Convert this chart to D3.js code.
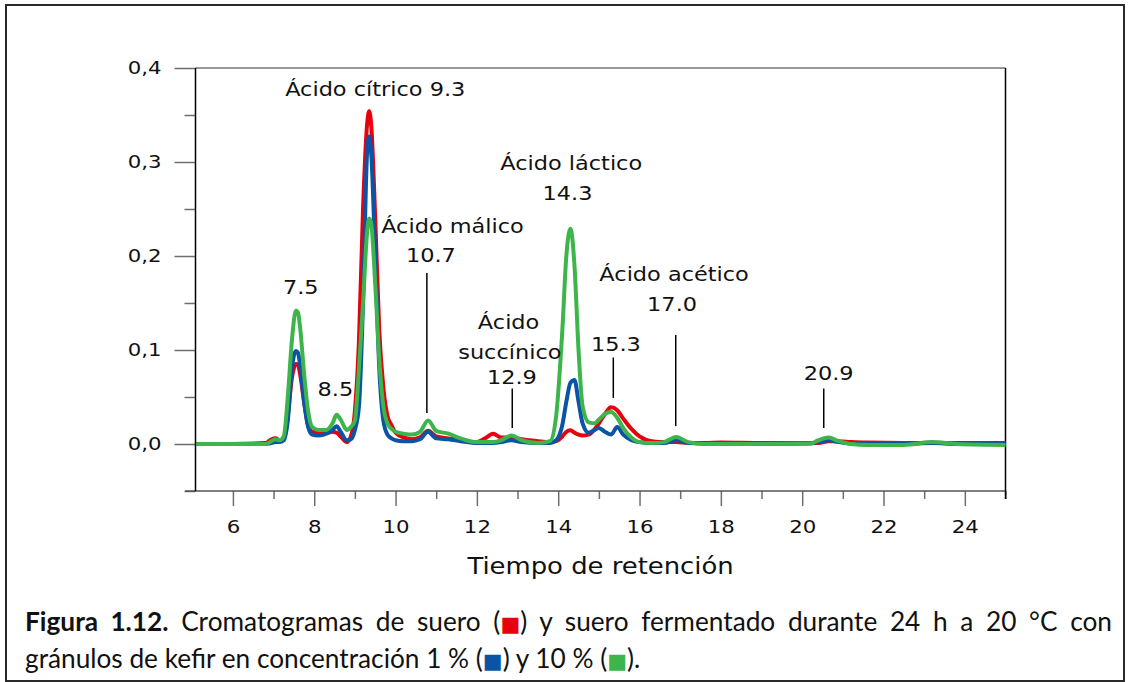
<!DOCTYPE html>
<html lang="es">
<head>
<meta charset="UTF-8">
<title>Cromatogramas de suero</title>
<script src="https://d3js.org/d3.v7.min.js"></script>
<style>
  body { margin: 0; background: #fff; }
  text.sx { transform-box: fill-box; transform-origin: 50% 50%; transform: scaleX(1.15); }
  text.sxr { transform-box: fill-box; transform-origin: 100% 50%; transform: scaleX(1.15); }
</style>
</head>
<body>
<div id="chart"></div>
<script>
// tiempo de retención (min) y absorbancia de cada cromatograma
const tiempo = [5.1, 6.0, 6.8, 6.95, 7.05, 7.15, 7.25, 7.35, 7.45, 7.55, 7.6, 7.65, 7.75, 7.85, 7.95,
  8.1, 8.3, 8.45, 8.55, 8.65, 8.8, 8.9, 9.0, 9.1, 9.2, 9.3, 9.35, 9.4, 9.5, 9.6, 9.7, 9.8, 9.9,
  10.0, 10.2, 10.4, 10.6, 10.8, 11.0, 11.3, 11.6, 12.0, 12.2, 12.4, 12.6, 12.85, 13.1, 13.5, 13.8,
  13.95, 14.1, 14.2, 14.3, 14.4, 14.5, 14.6, 14.75, 14.9, 15.0, 15.15, 15.3, 15.45, 15.6, 15.8,
  16.0, 16.3, 16.6, 16.9, 17.2, 17.6, 18.0, 19.0, 20.2, 20.4, 20.65, 20.9, 21.2, 21.6, 22.5,
  23.2, 23.8, 25.0];

const suero = [0, 0, 0.001, 0.005, 0.006, 0.004, 0.006, 0.03, 0.07, 0.085, 0.084, 0.075, 0.045, 0.02, 0.013,
  0.012, 0.012, 0.013, 0.012, 0.008, 0.002, 0.008, 0.035, 0.11, 0.25, 0.34, 0.354, 0.34, 0.24, 0.12, 0.06, 0.03, 0.02,
  0.012, 0.007, 0.005, 0.007, 0.014, 0.008, 0.006, 0.004, 0.002, 0.006, 0.011, 0.007, 0.007, 0.005, 0.003, 0.002,
  0.003, 0.008, 0.013, 0.0145, 0.012, 0.01, 0.009, 0.01, 0.016, 0.022, 0.032, 0.039, 0.036, 0.027, 0.016,
  0.008, 0.003, 0.002, 0.002, 0.001, 0.001, 0.0015, 0.001, 0.001, 0.001, 0.003, 0.003, 0.002, 0.0015, 0.001,
  0.001, 0.001, 0.001];

const kefir1 = [0, 0, 0, 0.001, 0.002, 0.002, 0.004, 0.025, 0.08, 0.099, 0.097, 0.085, 0.045, 0.018, 0.01,
  0.009, 0.011, 0.015, 0.019, 0.013, 0.004, 0.005, 0.015, 0.04, 0.15, 0.31, 0.327, 0.31, 0.2, 0.08, 0.025, 0.01, 0.006,
  0.004, 0.003, 0.003, 0.005, 0.013, 0.006, 0.005, 0.003, 0.001, 0.001, 0.001, 0.002, 0.004, 0.002, 0.001, 0.001,
  0.004, 0.02, 0.045, 0.065, 0.068, 0.045, 0.022, 0.012, 0.015, 0.017, 0.013, 0.01, 0.018, 0.01, 0.004,
  0.002, 0.001, 0.001, 0.004, 0.001, 0.0005, 0.0005, 0, 0.0005, 0.002, 0.004, 0.002, 0.0005, 0, 0,
  0.001, 0, 0];

const kefir10 = [0, 0, 0, 0.003, 0.005, 0.004, 0.008, 0.05, 0.11, 0.142, 0.14, 0.125, 0.075, 0.035, 0.018,
  0.015, 0.015, 0.022, 0.031, 0.026, 0.015, 0.018, 0.025, 0.08, 0.15, 0.225, 0.24, 0.235, 0.17, 0.09, 0.04, 0.022, 0.016,
  0.013, 0.011, 0.01, 0.013, 0.025, 0.014, 0.011, 0.006, 0.002, 0.002, 0.002, 0.004, 0.009, 0.004, 0.001, 0.003,
  0.03, 0.12, 0.2, 0.229, 0.19, 0.1, 0.04, 0.023, 0.022, 0.026, 0.032, 0.034, 0.028, 0.017, 0.007,
  0.002, 0.001, 0.002, 0.0075, 0.002, 0, 0, 0, 0.0005, 0.004, 0.0068, 0.003, 0, -0.001, -0.001,
  0.002, 0, -0.001];

const seriesNames = ["Suero", "Kefir 1 %", "Kefir 10 %"];
const seriesColors = ["#e8000e", "#0a54a6", "#3db54a"];

const yTicks = [0, 0.1, 0.2, 0.3, 0.4];
const yMinor = [-0.05, 0.05, 0.15, 0.25, 0.35];
const xTicks = [6, 8, 10, 12, 14, 16, 18, 20, 22, 24];
const xMinor = [7, 9, 11, 13, 15, 17, 19, 21, 23, 25];

// etiquetas de picos: texto, centro (t, abs)
const labels = [
  { txt: "Ácido cítrico 9.3", t: 9.50, v: 0.377 },
  { txt: "Ácido málico", t: 11.40, v: 0.232 },
  { txt: "10.7", t: 10.87, v: 0.201 },
  { txt: "7.5", t: 7.67, v: 0.167 },
  { txt: "8.5", t: 8.52, v: 0.058 },
  { txt: "Ácido", t: 12.78, v: 0.130 },
  { txt: "succínico", t: 12.81, v: 0.098 },
  { txt: "12.9", t: 12.86, v: 0.071 },
  { txt: "Ácido láctico", t: 14.32, v: 0.299 },
  { txt: "14.3", t: 14.23, v: 0.267 },
  { txt: "15.3", t: 15.42, v: 0.106 },
  { txt: "Ácido acético", t: 16.85, v: 0.181 },
  { txt: "17.0", t: 16.80, v: 0.149 },
  { txt: "20.9", t: 20.65, v: 0.075 }
];
// marcas verticales: t, abs superior, abs inferior
const markers = [
  { t: 10.77, v0: 0.182, v1: 0.033 },
  { t: 12.87, v0: 0.059, v1: 0.017 },
  { t: 15.355, v0: 0.092, v1: 0.049 },
  { t: 16.89, v0: 0.116, v1: 0.019 },
  { t: 20.53, v0: 0.059, v1: 0.017 }
];

const W = 1130, H = 682;
const svg = d3.select("#chart").append("svg")
  .attr("width", W).attr("height", H);

// marco exterior
svg.append("rect")
  .attr("x", 6).attr("y", 5).attr("width", 1118).attr("height", 676)
  .attr("fill", "none").attr("stroke", "#2a2a2a").attr("stroke-width", 2);

const pLeft = 195.5, pRight = 1005.5, pTop = 68, pBottom = 491;
const x = d3.scaleLinear().domain([5.08, 25]).range([pLeft, pRight]);
const y = d3.scaleLinear().domain([-0.05, 0.4]).range([pBottom, pTop]);

const tickCol = "#6e6e6e";
const fnt = "DejaVu Sans";

// eje Y
const yMaj = svg.append("g").attr("transform", `translate(${pLeft},0)`)
  .call(d3.axisLeft(y).tickValues(yTicks).tickSize(21).tickPadding(13)
    .tickFormat(d => d3.format(".1f")(d).replace(".", ",")));
yMaj.select(".domain").remove();
yMaj.selectAll("line").attr("stroke", tickCol).attr("stroke-width", 1.5);
yMaj.selectAll("text").attr("class", "sxr").attr("font-family", fnt)
  .attr("font-size", 18.5).attr("fill", "#111");

const yMin = svg.append("g").attr("transform", `translate(${pLeft},0)`)
  .call(d3.axisLeft(y).tickValues(yMinor).tickSize(11).tickFormat(""));
yMin.select(".domain").remove();
yMin.selectAll("line").attr("stroke", tickCol).attr("stroke-width", 1.5);

// eje X
const xMaj = svg.append("g").attr("transform", `translate(0,${pBottom})`)
  .call(d3.axisBottom(x).tickValues(xTicks).tickSize(15).tickFormat(d3.format("d")));
xMaj.select(".domain").remove();
xMaj.selectAll("line").attr("stroke", tickCol).attr("stroke-width", 1.5);
xMaj.selectAll("text").attr("class", "sx").attr("font-family", fnt)
  .attr("font-size", 18.5).attr("fill", "#111")
  .attr("y", 36).attr("dy", "0.35em");

const xMin = svg.append("g").attr("transform", `translate(0,${pBottom})`)
  .call(d3.axisBottom(x).tickValues(xMinor).tickSize(8).tickFormat(""));
xMin.select(".domain").remove();
xMin.selectAll("line").attr("stroke", tickCol).attr("stroke-width", 1.5);

// lineas del marco del gráfico
svg.append("line").attr("x1", 185).attr("x2", pRight).attr("y1", pBottom).attr("y2", pBottom)
  .attr("stroke", "#555").attr("stroke-width", 1.5);
svg.append("line").attr("x1", pLeft).attr("x2", pRight).attr("y1", pTop).attr("y2", pTop)
  .attr("stroke", "#333").attr("stroke-width", 1.2);
svg.append("line").attr("x1", pLeft).attr("x2", pLeft).attr("y1", pTop).attr("y2", pBottom)
  .attr("stroke", "#000").attr("stroke-width", 1.5);
svg.append("line").attr("x1", pRight).attr("x2", pRight).attr("y1", pTop).attr("y2", pBottom + 8)
  .attr("stroke", "#000").attr("stroke-width", 1.5);

// cromatogramas
const allSeries = [suero, kefir1, kefir10];
const line = d3.line()
  .x(d => x(d[0])).y(d => y(d[1]))
  .curve(d3.curveMonotoneX);

svg.append("g").selectAll("path")
  .data(allSeries)
  .join("path")
  .attr("d", s => line(tiempo.map((t, i) => [t, s[i]])))
  .attr("fill", "none")
  .attr("stroke", (s, i) => seriesColors[i])
  .attr("stroke-width", 4)
  .attr("stroke-linejoin", "round");

// marcas de picos
svg.append("g").selectAll("line")
  .data(markers)
  .join("line")
  .attr("x1", d => x(d.t)).attr("x2", d => x(d.t))
  .attr("y1", d => y(d.v0)).attr("y2", d => y(d.v1))
  .attr("stroke", "#000").attr("stroke-width", 1.5);

svg.append("g").selectAll("text")
  .data(labels)
  .join("text")
  .attr("class", "sx")
  .attr("x", d => x(d.t)).attr("y", d => y(d.v))
  .attr("dy", "0.35em")
  .attr("text-anchor", "middle")
  .attr("font-family", fnt).attr("font-size", 19.5).attr("fill", "#111")
  .text(d => d.txt);

// título del eje X
svg.append("text")
  .attr("class", "sx")
  .attr("x", (pLeft + pRight) / 2).attr("y", 566).attr("dy", "0.35em")
  .attr("text-anchor", "middle")
  .attr("font-family", fnt).attr("font-size", 22.5).attr("fill", "#111")
  .text("Tiempo de retención");

// pie de figura
const capFont = "Lato, 'Open Sans', sans-serif";
const sq = (t, col) => t.append("tspan").attr("fill", col)
  .attr("font-family", "DejaVu Sans").attr("font-size", 21).text("■");

const l1 = svg.append("text").attr("x", 25).attr("y", 631)
  .attr("font-family", capFont).attr("font-size", 20).attr("fill", "#111");
l1.append("tspan").attr("font-weight", "bold").text("Figura 1.12.");
l1.append("tspan").text(" Cromatogramas de suero (");
sq(l1, seriesColors[0]);
l1.append("tspan").text(") y suero fermentado durante 24 h a 20 °C con");

const l2 = svg.append("text").attr("x", 25).attr("y", 668)
  .attr("font-family", capFont).attr("font-size", 20).attr("fill", "#111");
l2.append("tspan").text("gránulos de kefir en concentración 1 % (");
sq(l2, seriesColors[1]);
l2.append("tspan").text(") y 10 % (");
sq(l2, seriesColors[2]);
l2.append("tspan").text(").");

// ajustar tamaño a la linea 2 y justificar la linea 1
const w2 = l2.node().getComputedTextLength();
const fs = 20 * 628 / w2;
l1.attr("font-size", fs);
l2.attr("font-size", fs);
const w1 = l1.node().getComputedTextLength();
const nSp = l1.text().split(" ").length - 1;
l1.attr("word-spacing", (1087 - w1) / nSp);
</script>
</body>
</html>
